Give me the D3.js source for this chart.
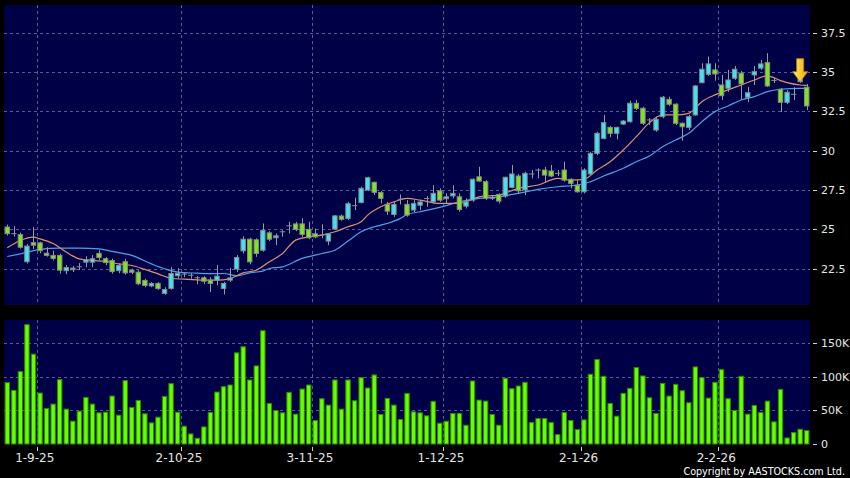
<!DOCTYPE html>
<html>
<head>
<meta charset="utf-8">
<script src="https://cdn.jsdelivr.net/npm/d3@7"></script>
<style>
body { margin: 0; background: #000; }
#main-container { width: 850px; height: 478px; }
text { font-family: "DejaVu Sans", Verdana, sans-serif; }
</style>
</head>
<body>
<div id="main-container"></div>
<script>
var width = 850,
    height = 478

// daily OHLC
var opens = [25.15,24.73,24.67,22.95,24.16,24.15,23.49,23.35,23.35,22.38,22.54,22.63,22.92,22.92,23.48,23.14,23.02,22.38,22.95,22.41,
  22.28,21.76,21.41,21.57,20.94,21.25,22.06,22.16,22.09,21.93,21.93,21.78,21.78,21.25,21.78,22.48,23.64,24.38,24.34,23.68,
  24.78,24.47,24.85,25.23,25.35,25.35,25.00,24.72,24.64,24.26,25.02,25.85,25.70,26.51,26.71,27.50,27.99,27.35,26.59,25.95,
  26.91,26.59,26.23,26.54,26.96,26.75,27.45,26.95,27.13,27.07,26.48,26.86,28.34,28.03,26.97,27.22,27.12,27.67,28.39,27.50,
  28.52,28.77,28.77,28.71,28.56,28.77,28.18,27.81,27.39,28.52,29.83,30.78,31.48,31.10,31.69,31.84,33.01,32.69,31.95,31.31,
  32.16,33.26,32.95,31.74,31.48,32.27,34.32,34.85,35.13,34.17,33.96,34.60,34.92,33.39,34.81,35.24,35.59,34.46,33.90,33.07,
  33.58,34.38,34.03]
var highs = [25.31,25.21,24.80,24.06,25.15,24.22,23.87,23.65,23.45,22.73,22.67,22.86,23.30,23.37,23.68,23.24,23.14,22.83,23.14,22.51,
  22.41,21.87,21.65,21.65,21.33,22.60,22.54,22.28,22.22,22.03,22.03,21.97,22.73,21.67,22.56,23.37,24.57,24.47,24.43,25.38,
  24.89,24.74,24.95,25.48,25.48,25.70,25.48,25.06,25.32,24.74,25.91,25.95,26.75,27.01,27.71,28.34,28.03,27.43,26.75,26.75,
  27.22,26.86,26.86,26.86,27.12,27.81,27.61,27.29,27.81,27.29,26.97,28.24,28.98,28.13,27.18,27.29,28.34,29.09,28.52,28.66,
  28.77,28.88,28.98,29.09,28.77,29.30,28.24,28.13,28.88,29.93,31.20,32.27,31.57,31.52,31.95,33.18,33.22,32.79,32.06,32.16,
  33.47,33.43,33.01,31.78,32.27,34.17,35.55,35.97,35.55,34.81,35.13,35.38,35.06,34.05,35.38,35.76,36.19,34.62,33.98,33.85,
  34.03,34.68,34.24]
var lows = [24.61,24.54,23.78,22.83,23.75,23.49,23.27,23.03,22.19,22.16,22.29,22.41,22.60,22.60,23.05,22.73,22.19,22.22,22.13,22.16,
  21.46,21.33,21.33,21.17,20.85,21.17,21.87,21.97,21.87,21.52,21.52,21.03,21.46,20.87,21.67,22.30,23.47,22.78,23.26,23.58,
  24.26,24.00,24.53,24.74,24.89,24.53,24.38,24.43,24.43,24.00,24.96,25.55,25.59,26.23,26.65,27.43,27.18,26.65,25.91,25.80,
  26.59,25.80,26.10,26.23,26.44,26.65,26.75,26.65,26.97,26.12,26.33,26.75,28.03,26.86,26.86,26.65,27.01,27.61,27.29,27.18,
  28.24,28.24,27.96,28.31,28.39,28.03,27.61,27.33,27.29,28.39,29.72,30.72,30.85,30.72,31.63,31.78,32.58,31.63,31.63,31.20,
  32.06,32.84,31.63,30.63,31.31,32.22,34.28,34.75,34.45,33.22,33.73,34.49,33.22,33.09,34.17,35.13,34.05,34.30,32.46,32.96,
  33.22,34.30,32.58]
var closes = [24.73,24.73,23.87,23.94,24.00,23.65,23.35,23.16,22.41,22.58,22.44,22.63,23.07,23.14,23.21,22.89,22.32,22.71,22.24,22.28,
  21.55,21.44,21.57,21.24,21.18,22.20,22.20,22.16,22.09,21.93,21.71,21.57,22.03,21.57,21.92,23.22,24.38,22.94,23.47,24.94,
  24.38,24.59,24.85,25.23,25.00,24.68,24.47,24.53,24.64,24.72,25.86,25.64,26.63,26.51,27.61,28.28,27.35,26.97,26.16,26.59,
  26.91,25.91,26.65,26.74,26.96,27.29,26.86,27.07,27.29,26.27,26.75,28.18,28.07,26.97,26.97,26.80,28.31,28.52,27.45,28.56,
  28.52,28.77,28.45,28.39,28.56,28.13,27.92,27.39,28.77,29.83,31.10,31.78,31.10,31.48,31.88,33.01,32.69,31.74,31.95,31.99,
  33.39,32.95,31.74,31.52,32.16,34.11,35.17,35.51,34.87,33.49,34.49,35.17,34.24,33.68,35.02,35.51,34.11,34.46,33.07,33.71,
  33.58,34.60,32.84]
// volume, thousands of shares
var volumes = [91.5,80,108,178,134,76,53,59.5,96,52,34,49,69.5,59.5,46.5,47.5,71.5,43,94.5,54.5,
  65,45,31.5,40,71,90,47.5,26.5,15,8.5,25.5,47,77.5,85.5,88,136,145,95.5,116.5,169,
  60.5,50,46.5,77,44.5,82,88,35,67.5,58,95.5,52,95.5,64.5,99,83.5,103,44,68,58,
  36.5,75.5,48,46.5,42,63.5,31,34,45.5,45.5,28,94,65.5,64,44,28,98,82.5,86.5,92,
  32,38,38,32,14,47,35,21.5,36,104,126,101,60.5,41.5,75.5,83,114,101.5,69,45.5,
  90.5,71.5,89,79.5,61.5,115,99,68.5,92,111,67.5,50,101,44.5,57.5,47,64,33,81.5,9,
  17,22,20]

// moving averages (bar index, value)
var maShortIdx = [0,2,4,5,7,9,11,13,15,17,19,21,23,25,27,30,32,34,36,38,40,42,44,46,48,50,52,54,55,57,59,61,63,66,69,72,75,78,81,84,86,88,90,92,94,96,98,100,102,104,106,108,110,112,114,116,118,119,121,122]
var maShortVal = [23.84,24.30,24.51,24.40,24.10,23.56,23.13,23.03,22.97,22.81,22.71,22.46,22.18,21.90,21.84,21.78,21.78,21.88,22.24,22.41,22.94,23.47,24.32,24.53,24.64,24.85,25.17,25.48,25.91,26.44,26.75,26.97,26.86,26.65,26.65,27.07,27.18,27.61,27.82,28.24,28.13,28.18,28.77,29.30,30.04,30.89,31.78,32.27,32.27,32.37,33.11,33.54,33.86,34.17,34.49,34.75,34.45,34.32,34.17,34.14]
var maLongIdx = [0,2,5,8,11,14,16,19,22,24,26,29,31,33,35,37,39,40,42,45,48,50,52,54,56,58,60,61,63,66,69,72,75,78,81,84,87,89,91,94,96,98,100,102,104,106,108,110,112,114,116,118,121,122]
var maLongVal = [23.28,23.45,23.73,23.81,23.81,23.77,23.60,23.35,22.81,22.50,22.29,22.22,22.19,22.20,22.05,22.24,22.35,22.52,22.62,23.16,23.47,23.68,24.26,24.85,25.17,25.38,25.70,25.95,26.12,26.40,26.75,26.97,27.07,27.29,27.54,27.71,27.82,28.03,28.39,28.88,29.30,29.66,30.25,30.68,31.10,31.84,32.48,32.84,33.22,33.43,33.75,33.90,33.96,33.96]

var dateIdx = [4, 26, 46, 66, 87, 108]
var dateLabels = ["1-9-25", "2-10-25", "3-11-25", "1-12-25", "2-1-26", "2-2-26"]
var priceTicks = [22.5, 25, 27.5, 30, 32.5, 35, 37.5]
var volTicks = [0, 50, 100, 150]
var volTickLabels = ["0", "50K", "100K", "150K"]
var arrowIdx = 121

var svg = d3.select("#main-container").append("svg")
  .attr("id", "chart")
  .attr("width", width)
  .attr("height", height)

svg.append("rect")
  .attr("width", width)
  .attr("height", height)
  .attr("fill", "#000")

var x = d3.scaleBand()
  .domain(d3.range(opens.length))
  .range([4, 810])
  .paddingInner(0.18)
  .paddingOuter(0.09)

var yP = d3.scaleLinear()
  .domain([20.2, 39.25])
  .range([305, 5])

var yV = d3.scaleLinear()
  .domain([0, 185])
  .range([444, 320])

function cx(i) { return x(i) + x.bandwidth() / 2 }
function gx(i) { return x(i) + x.bandwidth() + x.step() * 0.09 }

var panels = svg.append("g")
panels.append("rect")
  .attr("x", 4).attr("y", yP.range()[1])
  .attr("width", 806).attr("height", yP.range()[0] - yP.range()[1])
  .attr("fill", "#000046")
panels.append("rect")
  .attr("x", 4).attr("y", yV.range()[1])
  .attr("width", 806).attr("height", yV.range()[0] - yV.range()[1])
  .attr("fill", "#000046")

var grid = svg.append("g")
  .attr("stroke", "#5a5a92")
  .attr("stroke-width", 1)
  .attr("stroke-dasharray", "3,3")

grid.selectAll(".hp")
  .data(priceTicks)
  .enter().append("line")
    .attr("x1", 4).attr("x2", 810)
    .attr("y1", function(d){ return Math.round(yP(d)) + 0.5 })
    .attr("y2", function(d){ return Math.round(yP(d)) + 0.5 })

grid.selectAll(".hv")
  .data(volTicks.slice(1))
  .enter().append("line")
    .attr("x1", 4).attr("x2", 810)
    .attr("y1", function(d){ return Math.round(yV(d)) + 0.5 })
    .attr("y2", function(d){ return Math.round(yV(d)) + 0.5 })

dateIdx.forEach(function(i){
  var gxv = Math.round(gx(i)) + 0.5
  grid.append("line")
    .attr("x1", gxv).attr("x2", gxv)
    .attr("y1", yP.range()[1]).attr("y2", yP.range()[0])
  grid.append("line")
    .attr("x1", gxv).attr("x2", gxv)
    .attr("y1", yV.range()[1]).attr("y2", yV.range()[0])
})

// moving averages
var maLine = d3.line()
  .x(function(d){ return cx(d[0]) })
  .y(function(d){ return yP(d[1]) })
  .curve(d3.curveMonotoneX)

svg.append("path")
  .datum(d3.zip(maLongIdx, maLongVal))
  .attr("fill", "none")
  .attr("stroke", "#4aa3e6")
  .attr("stroke-width", 1.2)
  .attr("d", maLine)

svg.append("path")
  .datum(d3.zip(maShortIdx, maShortVal))
  .attr("fill", "none")
  .attr("stroke", "#e0906c")
  .attr("stroke-width", 1.2)
  .attr("d", maLine)

// candles
var candles = svg.append("g").selectAll("g")
  .data(d3.range(opens.length))
  .enter().append("g")

candles.append("line")
  .attr("x1", function(i){ return Math.round(cx(i)) + 0.5 })
  .attr("x2", function(i){ return Math.round(cx(i)) + 0.5 })
  .attr("y1", function(i){ return yP(highs[i]) })
  .attr("y2", function(i){ return yP(lows[i]) })
  .attr("stroke", "#9a9a9a")
  .attr("stroke-width", 1)

candles.append("rect")
  .attr("x", function(i){ return cx(i) - 2.2 })
  .attr("width", 4.4)
  .attr("y", function(i){ return yP(Math.max(opens[i], closes[i])) })
  .attr("height", function(i){ return Math.max(0.01, Math.abs(yP(opens[i]) - yP(closes[i]))) })
  .attr("fill", function(i){
    if (closes[i] > opens[i]) return "#3fe3f2"
    if (closes[i] < opens[i]) return "#7fe51e"
    return "none"
  })
  .attr("stroke", "#8a8a8a")
  .attr("stroke-width", 1)

// volume bars
svg.append("g").selectAll("rect")
  .data(volumes)
  .enter().append("rect")
    .attr("x", function(d, i){ return cx(i) - 2.2 })
    .attr("width", 4.4)
    .attr("y", function(d){ return yV(d) })
    .attr("height", function(d){ return yV(0) - yV(d) })
    .attr("fill", "#66ff00")
    .attr("stroke", "#2f8a00")
    .attr("stroke-width", 1)

// arrow on the latest signal
var defs = svg.append("defs")
var grad = defs.append("linearGradient")
  .attr("id", "arrowGrad")
  .attr("x1", 0).attr("x2", 1).attr("y1", 0).attr("y2", 0)
grad.append("stop").attr("offset", "0%").attr("stop-color", "#fff070")
grad.append("stop").attr("offset", "100%").attr("stop-color", "#f2a900")

var ax = cx(arrowIdx), ay = yP(opens[arrowIdx])
svg.append("path")
  .attr("d", "M" + ax + "," + ay +
    " L" + (ax - 7.5) + "," + (ay - 10) +
    " L" + (ax - 3.5) + "," + (ay - 10) +
    " L" + (ax - 3.5) + "," + (ay - 23) +
    " L" + (ax + 3.5) + "," + (ay - 23) +
    " L" + (ax + 3.5) + "," + (ay - 10) +
    " L" + (ax + 7.5) + "," + (ay - 10) + " Z")
  .attr("fill", "url(#arrowGrad)")
  .attr("stroke", "#c98a00")
  .attr("stroke-width", 0.8)

// right axis
var axisG = svg.append("g")
  .attr("fill", "#e6e6e6")
  .attr("font-size", "11px")

axisG.selectAll(".pt")
  .data(priceTicks)
  .enter().append("line")
    .attr("x1", 813).attr("x2", 817)
    .attr("y1", function(d){ return Math.round(yP(d)) + 0.5 })
    .attr("y2", function(d){ return Math.round(yP(d)) + 0.5 })
    .attr("stroke", "#cfcfcf")

axisG.selectAll(".pl")
  .data(priceTicks)
  .enter().append("text")
    .attr("x", 821)
    .attr("y", function(d){ return yP(d) })
    .attr("dy", "0.36em")
    .text(function(d){ return d })

axisG.selectAll(".vt")
  .data(volTicks)
  .enter().append("line")
    .attr("x1", 813).attr("x2", 817)
    .attr("y1", function(d){ return Math.round(yV(d)) + 0.5 })
    .attr("y2", function(d){ return Math.round(yV(d)) + 0.5 })
    .attr("stroke", "#cfcfcf")

axisG.selectAll(".vl")
  .data(volTicks)
  .enter().append("text")
    .attr("x", 821)
    .attr("y", function(d){ return yV(d) })
    .attr("dy", "0.36em")
    .text(function(d, i){ return volTickLabels[i] })

// date axis
var dateG = svg.append("g")
dateG.selectAll("line")
  .data(dateIdx)
  .enter().append("line")
    .attr("x1", function(i){ return Math.round(gx(i)) + 0.5 })
    .attr("x2", function(i){ return Math.round(gx(i)) + 0.5 })
    .attr("y1", 447).attr("y2", 451)
    .attr("stroke", "#cfcfcf")

dateG.selectAll("text")
  .data(dateIdx)
  .enter().append("text")
    .attr("x", function(i){ return gx(i) - 2 })
    .attr("y", 462)
    .attr("text-anchor", "middle")
    .attr("font-size", "12px")
    .attr("fill", "#e6e6e6")
    .text(function(d, k){ return dateLabels[k] })

svg.append("text")
  .attr("x", 845)
  .attr("y", 475)
  .attr("text-anchor", "end")
  .attr("font-family", "'DejaVu Sans Condensed', 'DejaVu Sans', sans-serif")
  .attr("font-size", "9.6px")
  .attr("fill", "#ffffff")
  .text("Copyright by AASTOCKS.com Ltd.")
</script>
</body>
</html>
